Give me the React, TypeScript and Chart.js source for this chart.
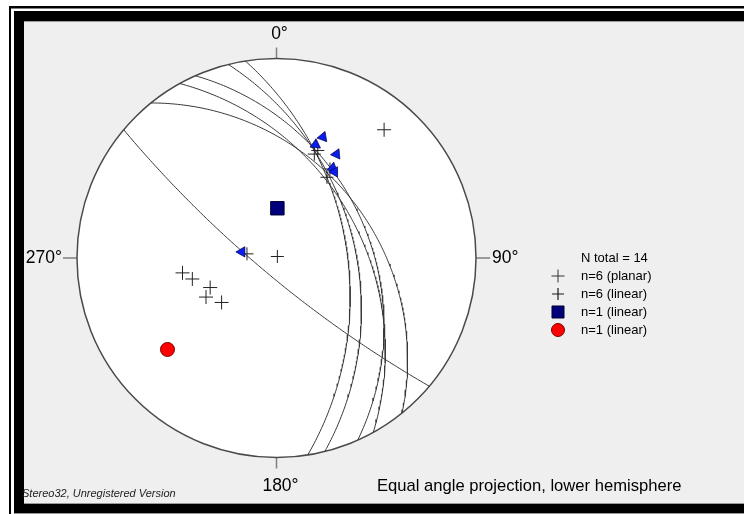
import React, { useEffect, useRef } from "react";
import { Chart, registerables } from "chart.js";
import { drawPoint } from "chart.js/helpers";

Chart.register(...registerables);

const W = 744;
const H = 514;
const CX = 276.5;
const CY = 258;
const R = 199.5;
const D2R = Math.PI / 180;

// Planes (dip direction / dip) – drawn as great circles, poles plotted as crosses
const planeDipDir = [81, 76, 66, 61, 51, 220];
const planeDip = [51, 47, 40, 44, 39, 80];

// Slip arrows on the planes (trend / plunge, arrow rotation)
const arrowTrend = [21, 19, 30, 32, 34, 280];
const arrowPlunge = [24, 28, 28, 34, 35, 70];
const arrowRotation = [20, 5, 25, 10, 30, 270];

// Linear data (crosses)
const linTrend = [30, 278, 21, 20, 31, 32];
const linPlunge = [89, 73, 30, 32, 35, 39];

// Single linear data sets
const squareTrend = [1];
const squarePlunge = [62];
const circleTrend = [230];
const circlePlunge = [19];

const compassLabels = ["0°", "90°", "180°", "270°"];
const legendTitle = "N total = 14";
const legendLabels = ["n=6 (planar)", "n=6 (linear)", "n=1 (linear)", "n=1 (linear)"];
const footerText = "Equal angle projection, lower hemisphere";
const versionText = "Stereo32, Unregistered Version";

function proj(trend: number, plunge: number) {
  const t = trend * D2R;
  const p = plunge * D2R;
  const r = Math.tan(Math.PI / 4 - p / 2);
  return { x: r * Math.sin(t), y: r * Math.cos(t) };
}

function greatCircle(dd: number, dip: number) {
  const s = (dd - 90) * D2R;
  const d = dd * D2R;
  const dp = dip * D2R;
  const S = [Math.cos(s), Math.sin(s), 0];
  const Dv = [Math.cos(dp) * Math.cos(d), Math.cos(dp) * Math.sin(d), Math.sin(dp)];
  const pts: { x: number; y: number }[] = [];
  for (let a = 0; a <= 180; a += 1) {
    const ar = a * D2R;
    const n = Math.cos(ar) * S[0] + Math.sin(ar) * Dv[0];
    const e = Math.cos(ar) * S[1] + Math.sin(ar) * Dv[1];
    const dn = Math.cos(ar) * S[2] + Math.sin(ar) * Dv[2];
    pts.push({ x: e / (1 + dn), y: n / (1 + dn) });
  }
  return pts;
}

const CROSS_COLOR = "#1a1a1a";

const frame = {
  id: "frame",
  beforeDraw(chart: any) {
    const ctx = chart.ctx;
    ctx.save();
    ctx.fillStyle = "#ffffff";
    ctx.fillRect(0, 0, W, H);
    ctx.fillStyle = "#000";
    ctx.fillRect(9, 6, W - 9, 2.5);
    ctx.fillRect(9, 6, 2, H - 6);
    ctx.fillRect(14, 11, W - 14, 10);
    ctx.fillRect(14, 11, 10, H - 11);
    ctx.fillRect(14, 504, W - 14, 9);
    ctx.fillStyle = "#9a9a9a";
    ctx.fillRect(24, 21, W - 24, 1);
    ctx.fillRect(24, 503, W - 24, 1);
    ctx.fillRect(14, 513, W - 14, 1);
    ctx.fillStyle = "#efefef";
    ctx.fillRect(24, 22, W - 24, 481);

    const xs = chart.scales.x;
    const ys = chart.scales.y;
    const cx = xs.getPixelForValue(0);
    const cy = ys.getPixelForValue(0);
    const r = xs.getPixelForValue(1) - cx;
    ctx.beginPath();
    ctx.arc(cx, cy, r, 0, Math.PI * 2);
    ctx.fillStyle = "#ffffff";
    ctx.fill();

    ctx.strokeStyle = "#808080";
    ctx.lineWidth = 1.5;
    ctx.beginPath();
    ctx.moveTo(cx, cy - r);
    ctx.lineTo(cx, cy - r - 11);
    ctx.moveTo(cx, cy + r);
    ctx.lineTo(cx, cy + r + 11);
    ctx.moveTo(cx - r, cy);
    ctx.lineTo(cx - r - 14, cy);
    ctx.moveTo(cx + r, cy);
    ctx.lineTo(cx + r + 14, cy);
    ctx.stroke();

    ctx.fillStyle = "#000";
    ctx.font = '17.5px "Liberation Sans", Arial, sans-serif';
    ctx.textBaseline = "middle";
    ctx.textAlign = "center";
    ctx.fillText(compassLabels[0], cx + 3, cy - r - 24);
    ctx.fillText(compassLabels[2], cx + 4, cy + r + 29);
    ctx.textAlign = "left";
    ctx.fillText(compassLabels[1], cx + r + 16, cy);
    ctx.textAlign = "right";
    ctx.fillText(compassLabels[3], cx - r - 15, cy);

    ctx.textAlign = "left";
    ctx.font = '16.6px "Liberation Sans", Arial, sans-serif';
    ctx.fillText(footerText, 377, 486);
    ctx.font = 'italic 11px "Liberation Sans", Arial, sans-serif';
    ctx.fillStyle = "#222";
    ctx.fillText(versionText, 22, 494);
    ctx.restore();
  },
  beforeDatasetsDraw(chart: any) {
    const ctx = chart.ctx;
    const xs = chart.scales.x;
    const ys = chart.scales.y;
    const cx = xs.getPixelForValue(0);
    const cy = ys.getPixelForValue(0);
    const r = xs.getPixelForValue(1) - cx;
    ctx.save();
    ctx.beginPath();
    ctx.arc(cx, cy, r, 0, Math.PI * 2);
    ctx.strokeStyle = "#4a4a4a";
    ctx.lineWidth = 1.5;
    ctx.stroke();
    ctx.restore();
  },
  afterDraw(chart: any) {
    const ctx = chart.ctx;
    ctx.save();
    ctx.font = '13px "Liberation Sans", Arial, sans-serif';
    ctx.textBaseline = "middle";
    ctx.textAlign = "left";
    ctx.fillStyle = "#000";
    const tx = 581;
    const sx = 558;
    ctx.fillText(legendTitle, tx, 258);
    const rows = [276, 294, 312, 330];
    const styles = [
      { pointStyle: "cross", radius: 6.5, borderWidth: 1, fill: CROSS_COLOR, stroke: "#333" },
      { pointStyle: "cross", radius: 6, borderWidth: 1.2, fill: CROSS_COLOR, stroke: CROSS_COLOR },
      { pointStyle: "rect", radius: 8.5, borderWidth: 1, fill: "#00007a", stroke: "#000033" },
      { pointStyle: "circle", radius: 6.5, borderWidth: 1, fill: "#ff0000", stroke: "#7a0000" },
    ];
    rows.forEach((y, i) => {
      const st = styles[i];
      ctx.fillStyle = st.fill;
      ctx.strokeStyle = st.stroke;
      ctx.lineWidth = st.borderWidth;
      drawPoint(ctx, { pointStyle: st.pointStyle as any, rotation: 0, radius: st.radius, borderWidth: st.borderWidth }, sx, y);
      ctx.fillStyle = "#000";
      ctx.fillText(legendLabels[i], tx, y);
    });
    ctx.restore();
  },
};

export default function App() {
  const ref = useRef<HTMLCanvasElement | null>(null);
  useEffect(() => {
    if (!ref.current) return;
    const planeSets = planeDipDir.map((dd, i) => ({
      label: "plane" + i,
      data: greatCircle(dd, planeDip[i]),
      showLine: true,
      borderColor: "#3a3a3a",
      borderWidth: 1,
      pointRadius: 0,
      tension: 0,
      order: 10,
    }));
    const poles = planeDipDir.map((dd, i) => proj((dd + 180) % 360, 90 - planeDip[i]));
    const lin = linTrend.map((t, i) => proj(t, linPlunge[i]));
    const arrows = arrowTrend.map((t, i) => proj(t, arrowPlunge[i]));
    const sq = squareTrend.map((t, i) => proj(t, squarePlunge[i]));
    const circ = circleTrend.map((t, i) => proj(t, circlePlunge[i]));

    const chart = new Chart(ref.current, {
      type: "scatter",
      data: {
        datasets: [
          ...planeSets,
          {
            label: legendLabels[0],
            data: poles,
            pointStyle: "cross",
            pointRadius: 7,
            pointBorderWidth: 1,
            pointBorderColor: "#222",
            pointBackgroundColor: "#222",
            order: 5,
          },
          {
            label: legendLabels[1],
            data: lin,
            pointStyle: "cross",
            pointRadius: 6.5,
            pointBorderWidth: 1,
            pointBorderColor: "#222",
            pointBackgroundColor: "#222",
            order: 4,
          },
          {
            label: "arrows",
            data: arrows,
            pointStyle: "triangle",
            pointRadius: 6,
            pointRotation: arrowRotation,
            pointBorderWidth: 0.7,
            pointBorderColor: "#000040",
            pointBackgroundColor: "#0a1cf2",
            order: 3,
          },
          {
            label: legendLabels[2],
            data: sq,
            pointStyle: "rect",
            pointRadius: 9.5,
            pointBorderWidth: 1,
            pointBorderColor: "#000033",
            pointBackgroundColor: "#00007a",
            order: 2,
          },
          {
            label: legendLabels[3],
            data: circ,
            pointStyle: "circle",
            pointRadius: 7,
            pointBorderWidth: 1,
            pointBorderColor: "#7a0000",
            pointBackgroundColor: "#ff0000",
            order: 1,
          },
        ] as any,
      },
      options: {
        animation: false,
        responsive: false,
        devicePixelRatio: 1,
        events: [],
        layout: { padding: 0, autoPadding: false },
        plugins: { legend: { display: false }, tooltip: { enabled: false }, title: { display: false } },
        scales: {
          x: { type: "linear", display: false, min: -CX / R, max: (W - CX) / R },
          y: { type: "linear", display: false, min: -(H - CY) / R, max: CY / R },
        },
      } as any,
      plugins: [frame],
    });
    return () => chart.destroy();
  }, []);
  return (
    <div style={{ position: "absolute", left: 0, top: 0, width: W, height: H }}>
      <canvas ref={ref} width={W} height={H} style={{ width: W, height: H, display: "block" }} />
    </div>
  );
}
